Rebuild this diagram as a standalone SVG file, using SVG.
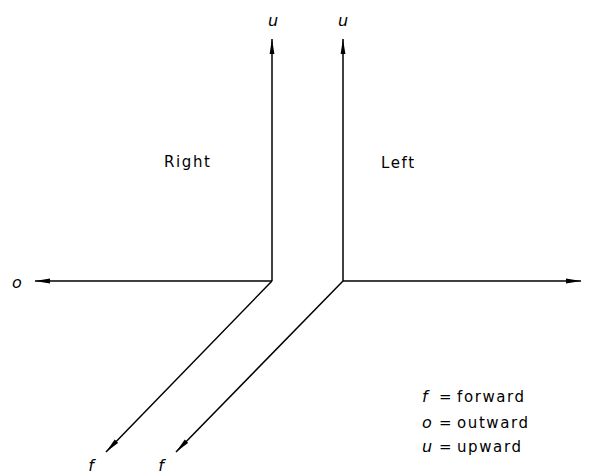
<svg xmlns="http://www.w3.org/2000/svg" width="593" height="475" viewBox="0 0 593 475">
<style>
.ln{stroke:#000;stroke-width:1.5;fill:none;marker-end:url(#ah)}
.t{font-family:"DejaVu Sans","Liberation Sans",sans-serif;font-size:15px;fill:#000;letter-spacing:1.6px}
.i{font-family:"DejaVu Sans","Liberation Sans",sans-serif;font-size:16px;font-style:italic;fill:#000}
</style>
<defs>
<marker id="ah" markerWidth="16" markerHeight="6" refX="15" refY="3" orient="auto" markerUnits="userSpaceOnUse">
<path d="M0,0.6 L15,3 L0,5.4 Z" fill="#000"/>
</marker>
</defs>
<rect width="593" height="475" fill="#fff"/>
<g id="connectors">
<path class="ln" d="M272,281 V39"/>
<path class="ln" d="M343,281 V39"/>
<path class="ln" d="M272,281 H35"/>
<path class="ln" d="M343,281 H581"/>
<path class="ln" d="M272,281 L106,452"/>
<path class="ln" d="M343,281 L176,452"/>
</g>
<g id="labels">
<text class="i" x="273" y="26" text-anchor="middle">u</text>
<text class="i" x="343" y="26" text-anchor="middle">u</text>
<text class="i" x="17" y="288" text-anchor="middle">o</text>
<text class="i" x="91" y="471" text-anchor="middle">f</text>
<text class="i" x="161" y="471" text-anchor="middle">f</text>
<text class="t" x="164" y="167">Right</text>
<text class="t" x="381" y="168">Left</text>
</g>
<g id="legend">
<text x="422" y="402"><tspan class="i">f</tspan><tspan class="t" x="439">=</tspan><tspan class="t" x="457">forward</tspan></text>
<text x="422" y="428"><tspan class="i">o</tspan><tspan class="t" x="439">=</tspan><tspan class="t" x="457">outward</tspan></text>
<text x="422" y="452"><tspan class="i">u</tspan><tspan class="t" x="439">=</tspan><tspan class="t" x="457">upward</tspan></text>
</g>
</svg>
